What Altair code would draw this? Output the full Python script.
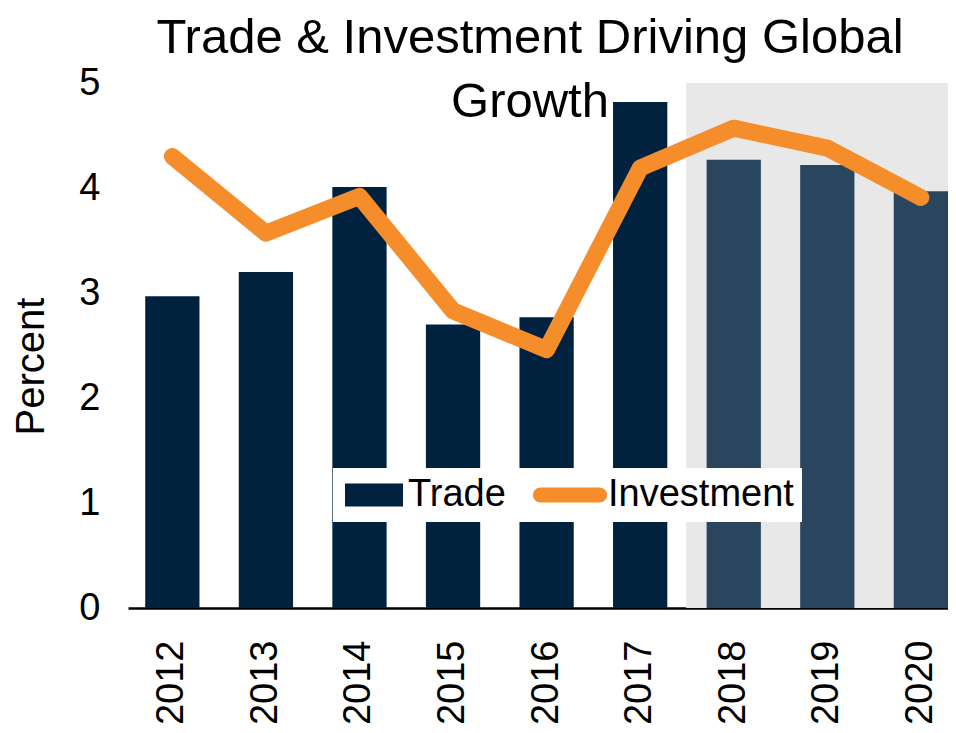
import altair as alt
import pandas as pd

# ---- data ----
years = ["2012", "2013", "2014", "2015", "2016", "2017", "2018", "2019", "2020"]
trade = [2.97, 3.20, 4.01, 2.70, 2.77, 4.82, 4.27, 4.22, 3.97]
investment = [4.30, 3.57, 3.92, 2.83, 2.46, 4.19, 4.57, 4.38, 3.91]
forecast_from = 2018
y_ticks = [0, 1, 2, 3, 4, 5]
title_lines = ["Trade & Investment Driving Global", "Growth"]
y_title = "Percent"
trade_name = "Trade"
investment_name = "Investment"

df = pd.DataFrame({"year": years, "trade": trade, "investment": investment})

FONT = "Liberation Sans"
NAVY = "#00223F"
ORANGE = "#F58D2B"
GREY = "#E8E8E8"
PAD_INNER = 0.42

x_scale = alt.Scale(domain=years, paddingInner=PAD_INNER, paddingOuter=0.092, align=1)
y_scale = alt.Scale(domain=[0, 5], nice=False, zero=True)

x_axis = alt.Axis(title=None, labelAngle=-90, labelFont=FONT, labelFontSize=38,
                  labelColor="black", labelPadding=32, ticks=False, tickSize=0,
                  domainColor="black", domainWidth=2.5, grid=False)
y_axis = alt.Axis(title=y_title, values=y_ticks, format="d", labelFont=FONT,
                  labelFontSize=38, labelColor="black", labelPadding=28, ticks=False,
                  tickSize=0, domain=False, grid=False,
                  titleFont=FONT, titleFontSize=40, titleFontWeight="normal",
                  titleColor="black", titleAngle=270, titleX=-97, titleY=283,
                  titleAlign="center", titleBaseline="middle")

is_forecast = f"toNumber(datum.year) >= {forecast_from}"

trade_legend = alt.Legend(
    title=None, orient="none", legendX=205, legendY=385, direction="horizontal",
    symbolType="M-2.9,-1.15H2.9V1.15H-2.9Z", symbolSize=400, symbolStrokeWidth=0,
    symbolOffset=14, labelFont=FONT, labelFontSize=38, labelColor="black",
    labelOffset=15, labelLimit=400, padding=8, fillColor="white")

inv_legend = alt.Legend(
    title=None, orient="none", legendX=385, legendY=385, direction="horizontal",
    symbolType="M-2.95,-0.75H2.95A0.75,0.75 0 0 1 2.95,0.75H-2.95A0.75,0.75 0 0 1 -2.95,-0.75Z",
    symbolSize=400, symbolStrokeWidth=0, symbolFillColor=ORANGE,
    symbolOffset=30, labelFont=FONT, labelFontSize=38, labelColor="black",
    labelOffset=19, labelLimit=400, padding=8, fillColor="white")

base = alt.Chart(df)

shade = base.transform_filter(is_forecast).mark_bar(
    color=GREY, stroke=GREY, strokeWidth=1.5,
    width=alt.RelativeBandSize(1 / (1 - PAD_INNER)), clip=True
).encode(
    x=alt.X("year:N", scale=x_scale, axis=x_axis),
    y=alt.Y(datum=5, scale=y_scale, axis=y_axis),
    y2=alt.Y2(datum=0),
)

bars = base.transform_calculate(series=f"'{trade_name}'").mark_bar().encode(
    x=alt.X("year:N", scale=x_scale, axis=x_axis),
    y=alt.Y("trade:Q", scale=y_scale, axis=y_axis),
    fill=alt.Fill("series:N", scale=alt.Scale(domain=[trade_name], range=[NAVY]),
                  legend=trade_legend),
    fillOpacity=alt.when(is_forecast).then(alt.value(0.82)).otherwise(alt.value(1.0)),
)

line = base.transform_calculate(series=f"'{investment_name}'").mark_line(
    strokeWidth=17, strokeCap="round", strokeJoin="round"
).encode(
    x=alt.X("year:N", scale=x_scale, axis=x_axis),
    y=alt.Y("investment:Q", scale=y_scale, axis=y_axis),
    stroke=alt.Stroke("series:N",
                      scale=alt.Scale(domain=[investment_name], range=[ORANGE]),
                      legend=inv_legend),
)

chart = alt.layer(shade, bars, line).properties(
    width=820, height=525,
    title=alt.TitleParams(title_lines, font=FONT, fontSize=49, fontWeight="normal",
                          color="black", anchor="middle", frame="group",
                          baseline="alphabetic", lineHeight=64, offset=-102, dx=-8),
    autosize=alt.AutoSizeParams(type="none"),
    padding={"left": 120, "top": 75, "right": 0, "bottom": 118},
).configure_view(stroke=None)

chart.save("out.html", embed_options={"renderer": "svg", "actions": False})
